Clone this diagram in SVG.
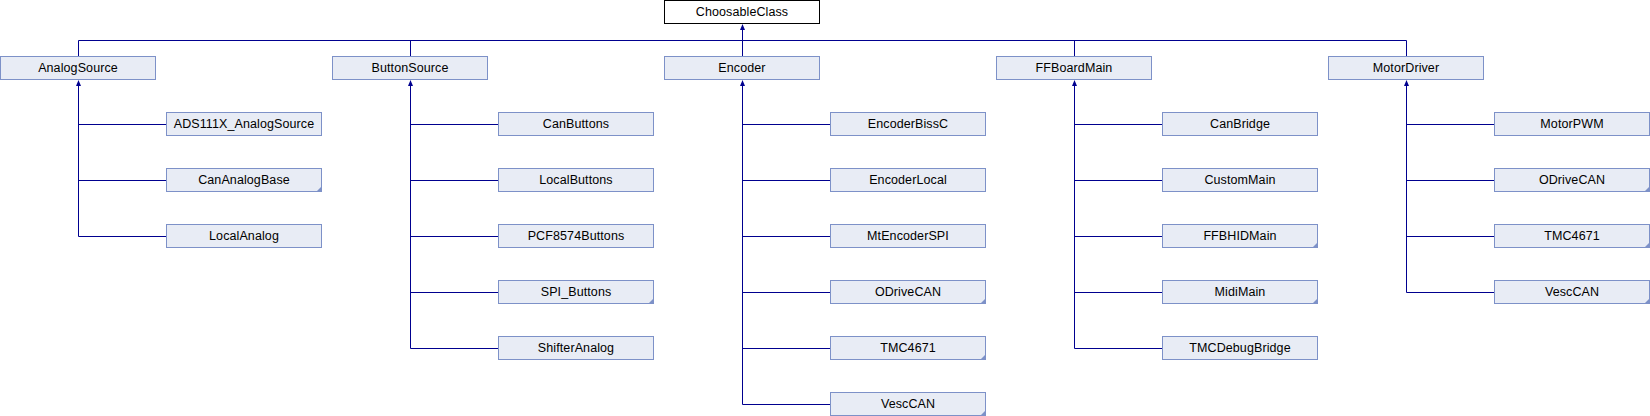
<svg xmlns="http://www.w3.org/2000/svg" width="1650" height="416" viewBox="0 0 1650 416">
<style>
.n rect{fill:#E8ECF5;stroke:#7D91C8;stroke-width:1}
.n.root rect{fill:#FFFFFF;stroke:#000000}
.n text{font-family:"Liberation Sans",Arial,sans-serif;font-size:12.5px;fill:#000;text-anchor:middle;letter-spacing:0.1px}
.fold{fill:#7D91C8}
.e{stroke:#00008F;stroke-width:1;fill:none}
.ah{fill:#00008F}
</style>
<rect width="1650" height="416" fill="#FFFFFF"/>
<g id="connectors">
<path class="e" d="M78.5,40.5H1406.5M742.5,28V40.5M78.5,40.5V56M410.5,40.5V56M742.5,40.5V56M1074.5,40.5V56M1406.5,40.5V56"/>
<path class="e" d="M78.5,84V236.5M78.5,124.5H166M78.5,180.5H166M78.5,236.5H166"/>
<path class="e" d="M410.5,84V348.5M410.5,124.5H498M410.5,180.5H498M410.5,236.5H498M410.5,292.5H498M410.5,348.5H498"/>
<path class="e" d="M742.5,84V404.5M742.5,124.5H830M742.5,180.5H830M742.5,236.5H830M742.5,292.5H830M742.5,348.5H830M742.5,404.5H830"/>
<path class="e" d="M1074.5,84V348.5M1074.5,124.5H1162M1074.5,180.5H1162M1074.5,236.5H1162M1074.5,292.5H1162M1074.5,348.5H1162"/>
<path class="e" d="M1406.5,84V292.5M1406.5,124.5H1494M1406.5,180.5H1494M1406.5,236.5H1494M1406.5,292.5H1494"/>
<polygon class="ah" points="742.5,24 740,30 745,30"/>
<polygon class="ah" points="78.5,80 76,86 81,86"/>
<polygon class="ah" points="410.5,80 408,86 413,86"/>
<polygon class="ah" points="742.5,80 740,86 745,86"/>
<polygon class="ah" points="1074.5,80 1072,86 1077,86"/>
<polygon class="ah" points="1406.5,80 1404,86 1409,86"/>
</g>
<g id="ChoosableClass" class="n root"><rect x="664.5" y="0.5" width="155" height="23"/><text x="742" y="16">ChoosableClass</text></g>
<g id="AnalogSource" class="n"><rect x="0.5" y="56.5" width="155" height="23"/><text x="78" y="72">AnalogSource</text></g>
<g id="ButtonSource" class="n"><rect x="332.5" y="56.5" width="155" height="23"/><text x="410" y="72">ButtonSource</text></g>
<g id="Encoder" class="n"><rect x="664.5" y="56.5" width="155" height="23"/><text x="742" y="72">Encoder</text></g>
<g id="FFBoardMain" class="n"><rect x="996.5" y="56.5" width="155" height="23"/><text x="1074" y="72">FFBoardMain</text></g>
<g id="MotorDriver" class="n"><rect x="1328.5" y="56.5" width="155" height="23"/><text x="1406" y="72">MotorDriver</text></g>

<g id="ADS111X_AnalogSource" class="n"><rect x="166.5" y="112.5" width="155" height="23"/><text x="244" y="128">ADS111X_AnalogSource</text></g>
<g id="CanAnalogBase" class="n"><rect x="166.5" y="168.5" width="155" height="23"/><text x="244" y="184">CanAnalogBase</text><polygon class="fold" points="322,186 322,192 316,192"/></g>
<g id="LocalAnalog" class="n"><rect x="166.5" y="224.5" width="155" height="23"/><text x="244" y="240">LocalAnalog</text></g>

<g id="CanButtons" class="n"><rect x="498.5" y="112.5" width="155" height="23"/><text x="576" y="128">CanButtons</text></g>
<g id="LocalButtons" class="n"><rect x="498.5" y="168.5" width="155" height="23"/><text x="576" y="184">LocalButtons</text></g>
<g id="PCF8574Buttons" class="n"><rect x="498.5" y="224.5" width="155" height="23"/><text x="576" y="240">PCF8574Buttons</text></g>
<g id="SPI_Buttons" class="n"><rect x="498.5" y="280.5" width="155" height="23"/><text x="576" y="296">SPI_Buttons</text><polygon class="fold" points="654,298 654,304 648,304"/></g>
<g id="ShifterAnalog" class="n"><rect x="498.5" y="336.5" width="155" height="23"/><text x="576" y="352">ShifterAnalog</text></g>

<g id="EncoderBissC" class="n"><rect x="830.5" y="112.5" width="155" height="23"/><text x="908" y="128">EncoderBissC</text></g>
<g id="EncoderLocal" class="n"><rect x="830.5" y="168.5" width="155" height="23"/><text x="908" y="184">EncoderLocal</text></g>
<g id="MtEncoderSPI" class="n"><rect x="830.5" y="224.5" width="155" height="23"/><text x="908" y="240">MtEncoderSPI</text></g>
<g id="ODriveCAN_enc" class="n"><rect x="830.5" y="280.5" width="155" height="23"/><text x="908" y="296">ODriveCAN</text><polygon class="fold" points="986,298 986,304 980,304"/></g>
<g id="TMC4671_enc" class="n"><rect x="830.5" y="336.5" width="155" height="23"/><text x="908" y="352">TMC4671</text><polygon class="fold" points="986,354 986,360 980,360"/></g>
<g id="VescCAN_enc" class="n"><rect x="830.5" y="392.5" width="155" height="23"/><text x="908" y="408">VescCAN</text><polygon class="fold" points="986,410 986,416 980,416"/></g>

<g id="CanBridge" class="n"><rect x="1162.5" y="112.5" width="155" height="23"/><text x="1240" y="128">CanBridge</text></g>
<g id="CustomMain" class="n"><rect x="1162.5" y="168.5" width="155" height="23"/><text x="1240" y="184">CustomMain</text></g>
<g id="FFBHIDMain" class="n"><rect x="1162.5" y="224.5" width="155" height="23"/><text x="1240" y="240">FFBHIDMain</text><polygon class="fold" points="1318,242 1318,248 1312,248"/></g>
<g id="MidiMain" class="n"><rect x="1162.5" y="280.5" width="155" height="23"/><text x="1240" y="296">MidiMain</text><polygon class="fold" points="1318,298 1318,304 1312,304"/></g>
<g id="TMCDebugBridge" class="n"><rect x="1162.5" y="336.5" width="155" height="23"/><text x="1240" y="352">TMCDebugBridge</text></g>

<g id="MotorPWM" class="n"><rect x="1494.5" y="112.5" width="155" height="23"/><text x="1572" y="128">MotorPWM</text></g>
<g id="ODriveCAN_mot" class="n"><rect x="1494.5" y="168.5" width="155" height="23"/><text x="1572" y="184">ODriveCAN</text><polygon class="fold" points="1650,186 1650,192 1644,192"/></g>
<g id="TMC4671_mot" class="n"><rect x="1494.5" y="224.5" width="155" height="23"/><text x="1572" y="240">TMC4671</text><polygon class="fold" points="1650,242 1650,248 1644,248"/></g>
<g id="VescCAN_mot" class="n"><rect x="1494.5" y="280.5" width="155" height="23"/><text x="1572" y="296">VescCAN</text><polygon class="fold" points="1650,298 1650,304 1644,304"/></g>
</svg>
